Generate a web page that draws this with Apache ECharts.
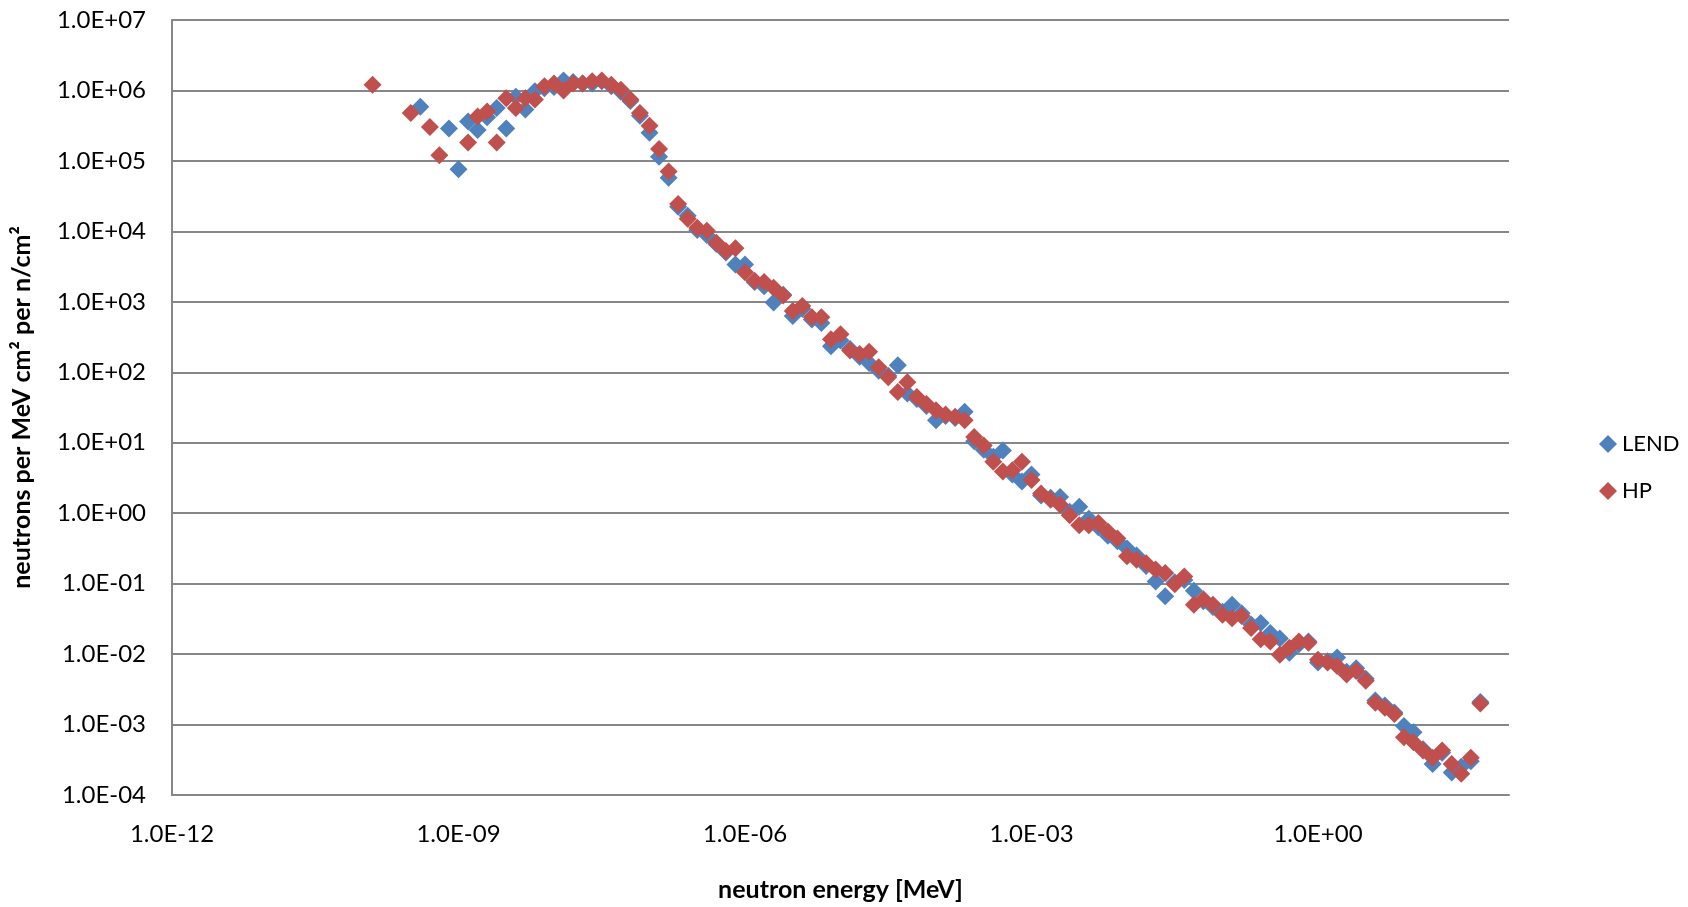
<!DOCTYPE html>
<html>
<head>
<meta charset="utf-8">
<title>neutron spectrum</title>
<script src="https://cdn.jsdelivr.net/npm/echarts@6/dist/echarts.min.js"></script>
<style>
  html, body { margin: 0; padding: 0; background: #fff; }
  #main { width: 1688px; height: 907px; }
</style>
</head>
<body>
<div id="main"></div>
<script>
// neutron energy bins, as log10(MeV)
var energyExp = [
  -9.9, -9.8, -9.7, -9.6, -9.5, -9.4, -9.3, -9.2, -9.1, -9.0,
  -8.9, -8.8, -8.7, -8.6, -8.5, -8.4, -8.3, -8.2, -8.1, -8.0,
  -7.9, -7.8, -7.7, -7.6, -7.5, -7.4, -7.3, -7.2, -7.1, -7.0,
  -6.9, -6.8, -6.7, -6.6, -6.5, -6.4, -6.3, -6.2, -6.1, -6.0,
  -5.9, -5.8, -5.7, -5.6, -5.5, -5.4, -5.3, -5.2, -5.1, -5.0,
  -4.9, -4.8, -4.7, -4.6, -4.5, -4.4, -4.3, -4.2, -4.1, -4.0,
  -3.9, -3.8, -3.7, -3.6, -3.5, -3.4, -3.3, -3.2, -3.1, -3.0,
  -2.9, -2.8, -2.7, -2.6, -2.5, -2.4, -2.3, -2.2, -2.1, -2.0,
  -1.9, -1.8, -1.7, -1.6, -1.5, -1.4, -1.3, -1.2, -1.1, -1.0,
  -0.9, -0.8, -0.7, -0.6, -0.5, -0.4, -0.3, -0.2, -0.1, 0.0,
  0.1, 0.2, 0.3, 0.4, 0.5, 0.6, 0.7, 0.8, 0.9, 1.0,
  1.1, 1.2, 1.3, 1.4, 1.5, 1.6, 1.7
];

// flux, as log10(neutrons per MeV cm2 per n/cm2); null = no point
var lendExp = [
  null, null, null, null, null, 5.77, null, null, 5.46, 4.88,
  5.56, 5.44, 5.62, 5.75, 5.46, 5.91, 5.73, 5.99, 6.03, 6.05,
  6.14, 6.12, 6.10, 6.10, 6.13, 6.06, 5.98, 5.85, 5.64, 5.40,
  5.06, 4.76, 4.35, 4.22, 4.02, 3.95, 3.82, 3.70, 3.53, 3.53,
  3.28, 3.22, 2.99, 3.10, 2.80, 2.90, 2.75, 2.70, 2.37, 2.45,
  2.33, 2.22, 2.13, 2.02, 1.95, 2.10, 1.70, 1.62, 1.52, 1.32,
  1.38, 1.35, 1.44, 1.02, 0.90, 0.80, 0.89, 0.55, 0.45, 0.55,
  0.25, 0.22, 0.23, 0.02, 0.09, -0.08, -0.20, -0.32, -0.40, -0.50,
  -0.60, -0.75, -0.97, -1.18, -0.98, -0.95, -1.10, -1.25, -1.33, -1.40,
  -1.30, -1.42, -1.58, -1.56, -1.70, -1.78, -1.98, -1.86, -1.82, -2.12,
  -2.10, -2.05, -2.25, -2.20, -2.35, -2.66, -2.73, -2.83, -3.02, -3.11,
  -3.35, -3.56, -3.40, -3.68, -3.60, -3.52, -2.68
];

var hpExp = [
  6.08, null, null, null, 5.68, null, 5.48, 5.08, null, null,
  5.26, 5.63, 5.70, 5.26, 5.89, 5.75, 5.89, 5.87, 6.06, 6.10,
  6.00, 6.10, 6.10, 6.13, 6.14, 6.08, 6.01, 5.87, 5.68, 5.50,
  5.17, 4.85, 4.39, 4.18, 4.05, 4.01, 3.84, 3.72, 3.76, 3.42,
  3.30, 3.28, 3.20, 3.09, 2.87, 2.94, 2.78, 2.78, 2.47, 2.54,
  2.31, 2.26, 2.29, 2.07, 1.93, 1.72, 1.86, 1.65, 1.55, 1.46,
  1.40, 1.37, 1.32, 1.08, 0.96, 0.73, 0.59, 0.61, 0.73, 0.47,
  0.28, 0.19, 0.12, -0.03, -0.17, -0.17, -0.14, -0.26, -0.36, -0.61,
  -0.66, -0.71, -0.80, -0.85, -1.01, -0.90, -1.30, -1.22, -1.30, -1.44,
  -1.49, -1.46, -1.63, -1.79, -1.82, -2.01, -1.91, -1.82, -1.84, -2.08,
  -2.12, -2.17, -2.29, -2.24, -2.38, -2.69, -2.76, -2.85, -3.18, -3.25,
  -3.37, -3.47, -3.37, -3.56, -3.70, -3.47, -2.70
];

function toPoints(exps) {
  var out = [];
  for (var i = 0; i < energyExp.length; i++) {
    if (exps[i] === null) continue;
    out.push([Math.pow(10, energyExp[i]), Math.pow(10, exps[i])]);
  }
  return out;
}

// Excel style label: 1.0E+07
function sciLabel(v) {
  var e = Math.round(Math.log10(v));
  var a = Math.abs(e);
  return '1.0E' + (e < 0 ? '-' : '+') + (a < 10 ? '0' : '') + a;
}

var font = 'Lato';
var gridColor = '#878787';

var myChart = echarts.init(document.getElementById('main'));
myChart.setOption({
  animation: false,
  backgroundColor: '#fff',
  textStyle: { fontFamily: font },
  grid: { left: 172, right: 179, top: 20, bottom: 110 },
  legend: {
    data: ['LEND', 'HP'],
    orient: 'vertical',
    left: 1594,
    top: 428,
    itemWidth: 18,
    itemHeight: 18,
    itemGap: 25,
    icon: 'diamond',
    textStyle: { fontFamily: font, fontSize: 22, color: '#000', lineHeight: 18 }
  },
  xAxis: {
    type: 'log',
    logBase: 10,
    min: 1e-12,
    max: 1e2,
    interval: 3,
    name: 'neutron energy [MeV]',
    nameLocation: 'middle',
    nameGap: 82,
    nameTextStyle: { fontFamily: font, fontSize: 25, fontWeight: 'bold', color: '#000' },
    axisLine: { show: true, lineStyle: { color: gridColor, width: 2 } },
    axisTick: { show: false },
    splitLine: { show: false },
    axisLabel: {
      margin: 27,
      fontSize: 24,
      color: '#000',
      formatter: function (v) {
        var e = Math.round(Math.log10(v));
        return e % 3 === 0 ? sciLabel(v) : '';
      }
    }
  },
  yAxis: {
    type: 'log',
    logBase: 10,
    min: 1e-4,
    max: 1e7,
    interval: 1,
    name: 'neutrons per MeV cm² per n/cm²',
    nameLocation: 'middle',
    nameGap: 138,
    nameTextStyle: { fontFamily: font, fontSize: 25, fontWeight: 'bold', color: '#000' },
    axisLine: { show: true, lineStyle: { color: gridColor, width: 2 } },
    axisTick: { show: false },
    splitLine: { show: true, lineStyle: { color: gridColor, width: 2 } },
    axisLabel: { margin: 26, fontSize: 24, color: '#000', formatter: sciLabel }
  },
  series: [{
    name: 'LEND',
    type: 'scatter',
    symbol: 'diamond',
    symbolSize: 18,
    itemStyle: { color: '#4F81BD', opacity: 1 },
    data: toPoints(lendExp)
  }, {
    name: 'HP',
    type: 'scatter',
    symbol: 'diamond',
    symbolSize: 18,
    itemStyle: { color: '#C0504D', opacity: 1 },
    data: toPoints(hpExp)
  }]
});
</script>
</body>
</html>
